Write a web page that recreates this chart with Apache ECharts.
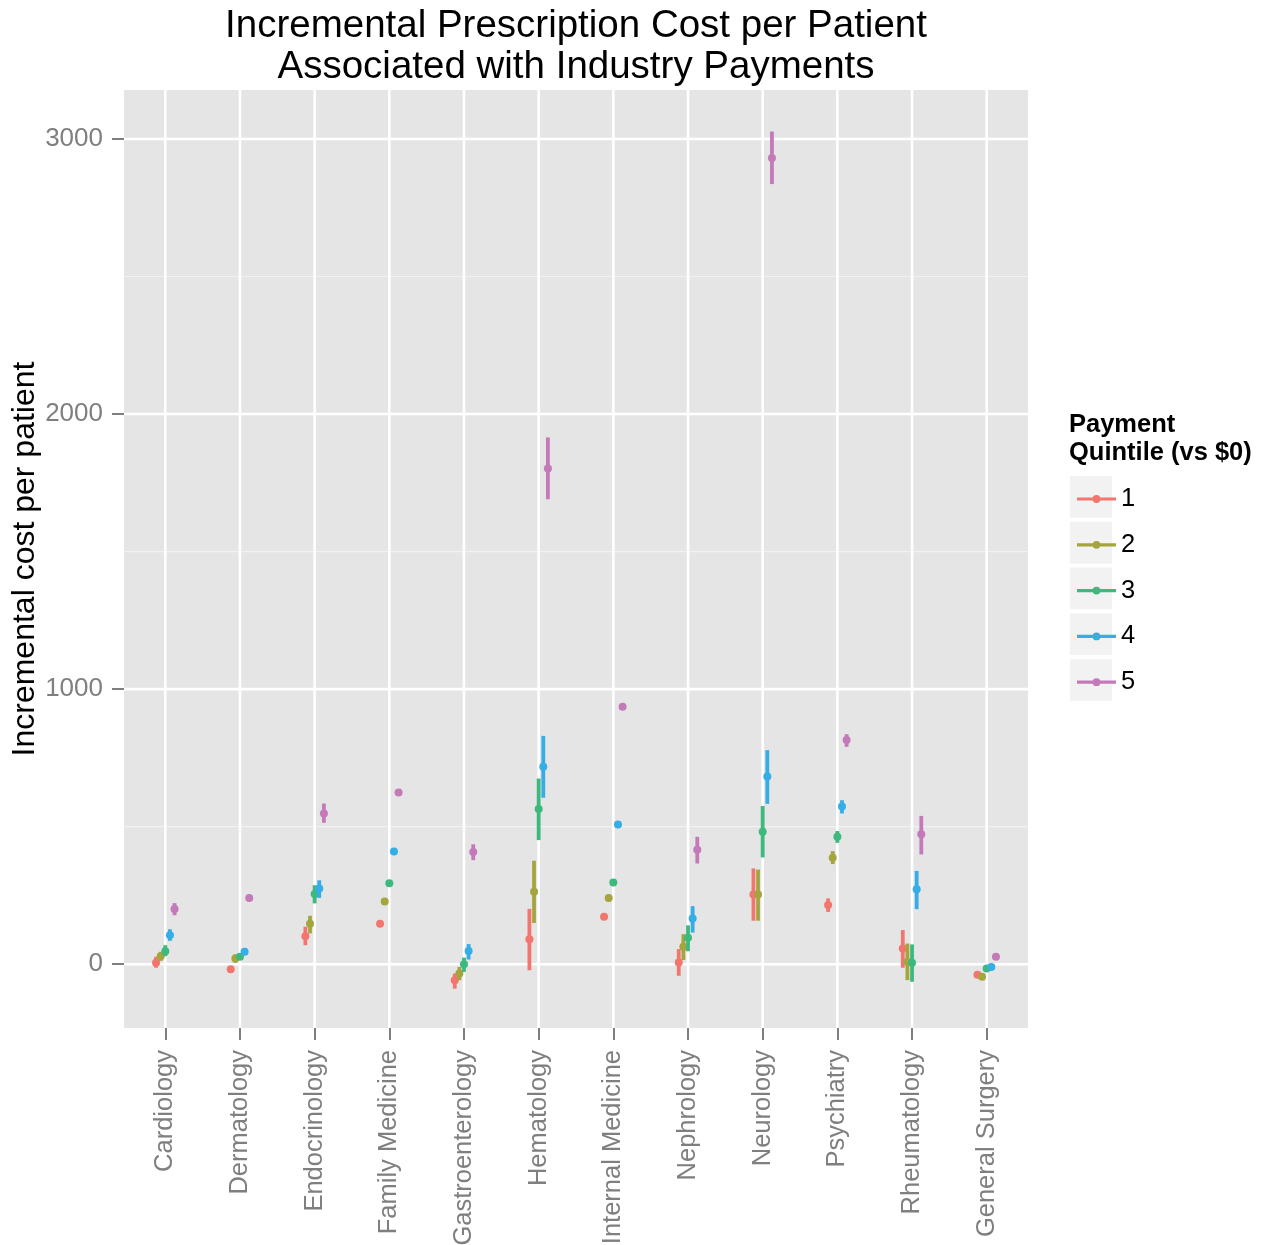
<!DOCTYPE html>
<html><head><meta charset="utf-8">
<script src="https://cdn.jsdelivr.net/npm/echarts@6/dist/echarts.min.js"></script>
<style>html,body{margin:0;padding:0;background:#fff}#c{width:1270px;height:1245px}</style>
</head><body><div id="c"></div>
<script>
// ---- data ----
const categories = ['Cardiology','Dermatology','Endocrinology','Family Medicine','Gastroenterology','Hematology','Internal Medicine','Nephrology','Neurology','Psychiatry','Rheumatology','General Surgery'];
const quintiles = ['1','2','3','4','5'];
const yTicks = [0, 1000, 2000, 3000];
const yMinorGrid = [500, 1500, 2500];
// each entry: [estimate, lower, upper]
const q1 = [[5,-13,27],[-18,-26,-10],[102,69,136],[147,140,154],[-58,-89,-34],[91,-22,201],[172,166,178],[6,-42,55],[253,158,348],[215,190,239],[57,-13,124],[-38,-44,-32]];
const q2 = [[29,12,45],[21,5,36],[147,112,176],[228,221,235],[-34,-58,-10],[263,150,376],[241,234,248],[63,15,109],[253,158,344],[387,364,411],[8,-58,75],[-46,-52,-40]];
const q3 = [[47,29,69],[27,19,35],[255,221,287],[294,288,300],[0,-28,24],[564,451,675],[297,291,303],[96,47,141],[481,388,575],[463,441,484],[5,-64,72],[-16,-22,-10]];
const q4 = [[105,85,127],[45,35,55],[275,241,305],[410,404,416],[48,17,73],[718,605,830],[508,502,514],[166,115,211],[682,583,778],[573,548,596],[272,200,339],[-10,-16,-4]];
const q5 = [[201,178,222],[241,231,251],[548,514,584],[624,618,630],[408,378,436],[1802,1690,1915],[936,930,942],[416,366,463],[2931,2836,3027],[815,790,836],[472,399,539],[27,21,33]];
const seriesValues = [q1, q2, q3, q4, q5];
const colors = ['#F2766E','#A5A53F','#3DB97E','#35ADE6','#C47AB9'];

// ---- chart ----
const FONT = "'Liberation Sans', Arial, Helvetica, sans-serif";
const DODGE = 0.062;
const chart = echarts.init(document.getElementById('c'), null, {renderer: 'canvas'});

function renderPoint(params, api) {
  const x = api.value(0) + api.value(4);
  const c = api.coord([x, api.value(1)]);
  const lo = api.coord([x, api.value(2)]);
  const hi = api.coord([x, api.value(3)]);
  const color = api.visual('color');
  return {type: 'group', children: [
    {type: 'line', shape: {x1: lo[0], y1: lo[1], x2: hi[0], y2: hi[1]}, style: {stroke: color, lineWidth: 3.8}},
    {type: 'circle', shape: {cx: c[0], cy: c[1], r: 4}, style: {fill: color}}
  ]};
}
function renderHGrid(width) {
  return function (params, api) {
    const p = api.coord([0, api.value(0)]);
    const cs = params.coordSys;
    return {type: 'line', shape: {x1: cs.x, y1: p[1], x2: cs.x + cs.width, y2: p[1]}, style: {stroke: width > 1.5 ? '#FFFFFF' : '#F2F2F2', lineWidth: width}};
  };
}
function renderVGrid(params, api) {
  const p = api.coord([api.value(0), 0]);
  const cs = params.coordSys;
  return {type: 'line', shape: {x1: p[0], y1: cs.y, x2: p[0], y2: cs.y + cs.height}, style: {stroke: '#FFFFFF', lineWidth: 2.6}};
}

const series = [
  {type: 'custom', name: 'gridMinor', silent: true, z: 0, renderItem: renderHGrid(1.2), data: yMinorGrid.map(v => [v]), encode: {y: 0}},
  {type: 'custom', name: 'gridMajor', silent: true, z: 0, renderItem: renderHGrid(2.6), data: yTicks.map(v => [v]), encode: {y: 0}},
  {type: 'custom', name: 'gridV', silent: true, z: 0, renderItem: renderVGrid, data: categories.map((c, i) => [i]), encode: {x: 0}}
];
quintiles.forEach((q, k) => {
  series.push({
    type: 'custom', name: q, z: 3,
    itemStyle: {color: colors[k]},
    renderItem: renderPoint,
    encode: {x: 0, y: [1, 2, 3]},
    data: seriesValues[k].map((d, i) => [i, d[0], d[1], d[2], (k - 2) * DODGE])
  });
});

const legendIcon = 'path://M0,-1.6L39,-1.6L39,1.6L0,1.6Z M23.4,0A3.9,3.9,0,1,1,15.6,0A3.9,3.9,0,1,1,23.4,0Z';
const keyRects = quintiles.map((q, k) => ({
  type: 'rect', left: 1070, top: 476 + k * 45.8, z: 0,
  shape: {width: 42, height: 41.7}, style: {fill: '#F2F2F2'}
}));

chart.setOption({
  animation: false,
  backgroundColor: '#FFFFFF',
  textStyle: {fontFamily: FONT},
  grid: {left: 124, top: 90, width: 904, height: 938, show: true, backgroundColor: '#E5E5E5', borderWidth: 0, containLabel: false, outerBoundsMode: 'none'},
  xAxis: {
    type: 'value', min: -0.553, max: 11.553,
    splitLine: {show: false}, axisLine: {show: false, onZero: false},
    axisTick: {show: true, length: 12, lineStyle: {color: '#7F7F7F', width: 2}, customValues: categories.map((c, i) => i)},
    axisLabel: {customValues: categories.map((c, i) => i), formatter: v => categories[Math.round(v)], rotate: 90, fontSize: 25.5, color: '#7F7F7F', margin: 22, fontFamily: FONT}
  },
  yAxis: {
    type: 'value', min: -232, max: 3178,
    name: 'Incremental cost per patient', nameLocation: 'middle', nameRotate: 90, nameGap: 83, nameMoveOverlap: false,
    nameTextStyle: {fontSize: 32, color: '#000000', fontFamily: FONT},
    splitLine: {show: false}, axisLine: {show: false, onZero: false},
    axisTick: {show: true, length: 12, lineStyle: {color: '#7F7F7F', width: 2}, customValues: yTicks},
    axisLabel: {customValues: yTicks, formatter: v => String(v), fontSize: 26, color: '#7F7F7F', margin: 21, fontFamily: FONT}
  },
  legend: {
    data: quintiles, orient: 'vertical', left: 1072, top: 473,
    icon: legendIcon, itemWidth: 39, itemHeight: 7.8, itemGap: 3.8,
    selectedMode: false,
    textStyle: {fontSize: 25.5, color: '#000000', lineHeight: 42, fontFamily: FONT}
  },
  graphic: [
    {type: 'text', z: 10, x: 576, y: 6, style: {
      text: 'Incremental Prescription Cost per Patient\nAssociated with Industry Payments',
      textAlign: 'center', fill: '#000000', font: '38.5px ' + FONT, lineHeight: 41
    }},
    {type: 'text', z: 10, x: 1069, y: 411, style: {
      text: 'Payment\nQuintile (vs $0)', fill: '#000000', font: 'bold 25.5px ' + FONT, lineHeight: 28
    }}
  ].concat(keyRects),
  series: series
});
</script></body></html>
